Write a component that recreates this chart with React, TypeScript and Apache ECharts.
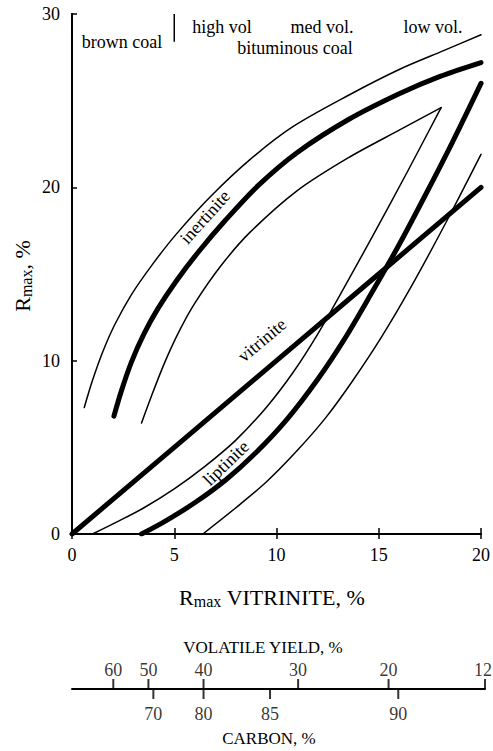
import React, { useEffect, useRef } from "react";
import * as echarts from "echarts";

// Rmax of each maceral vs. Rmax of vitrinite (%), read as [vitrinite, maceral]
const inertiniteMean = [
  [2.05, 6.8], [2.4, 8.2], [2.9, 9.9], [3.5, 11.5], [4.2, 13.0], [5.1, 14.6], [6.2, 16.3],
  [7.5, 18.1], [9.1, 20.1], [11.0, 22.0], [13.5, 23.9], [16.0, 25.4], [18.0, 26.4], [20.0, 27.2],
];
const inertiniteUpper = [
  [0.6, 7.3], [1.0, 8.85], [1.5, 10.5], [2.1, 12.1], [2.9, 13.8], [3.9, 15.5], [5.1, 17.3],
  [6.8, 19.5], [8.7, 21.6], [10.8, 23.5], [13.5, 25.3], [16.0, 26.8], [18.2, 27.9], [20.0, 28.8],
];
const inertiniteLower = [
  [3.4, 6.4], [3.9, 8.0], [4.5, 9.8], [5.2, 11.6], [6.0, 13.3], [7.3, 15.5], [8.7, 17.4],
  [11.0, 19.8], [13.5, 21.7], [16.0, 23.3], [18.05, 24.6],
];
const vitrinite = [
  [0, 0], [5, 5], [10, 10], [15, 15], [20, 20],
];
const liptiniteUpper = [
  [1.0, 0], [2.2, 0.7], [3.5, 1.5], [5.0, 2.6], [6.5, 3.9], [8.0, 5.4], [9.5, 7.3],
  [10.8, 9.3], [12.0, 11.5], [13.3, 14.2], [14.8, 17.4], [16.4, 20.9], [18.05, 24.6],
];
const liptiniteMean = [
  [3.4, 0], [4.5, 0.7], [6.0, 1.8], [7.5, 3.1], [9.0, 4.7], [10.5, 6.6], [12.0, 8.9],
  [13.3, 11.2], [14.6, 13.8], [16.0, 16.7], [17.3, 19.6], [18.6, 22.6], [20.0, 26.0],
];
const liptiniteLower = [
  [6.4, 0], [8.0, 1.5], [9.5, 3.0], [11.0, 4.8], [12.4, 6.7], [13.7, 8.8],
  [15.1, 11.3], [16.6, 14.3], [18.3, 18.0], [20.0, 21.9],
];

// coal rank divider on the top edge (brown coal | bituminous)
const rankDivider = [[5, 30], [5, 28.4]];

// equivalent scales below the chart, positioned on the vitrinite Rmax scale
const volatileTicks = [60, 50, 40, 30, 20, 12];
const volatileAt = [2.0, 3.7, 6.37, 10.95, 15.33, 20];
const carbonTicks = [70, 80, 85, 90];
const carbonAt = [3.94, 6.37, 9.59, 15.8];

const FONT = "'Liberation Serif', 'Times New Roman', serif";

function curve(data: number[][], width: number, smooth: number | boolean = 0.3) {
  return {
    type: "line",
    data,
    smooth,
    showSymbol: false,
    silent: true,
    lineStyle: { color: "#000", width, cap: "round", join: "round" },
  };
}

export default function App() {
  const ref = useRef<HTMLDivElement>(null);

  useEffect(() => {
    document.body.style.margin = "0";
    if (!ref.current) return;
    const chart = echarts.init(ref.current, undefined, { renderer: "svg" });
    const text = (t: string, x: number, y: number, size = 18, rot = 0) => ({
      type: "text",
      x,
      y,
      rotation: (rot * Math.PI) / 180,
      style: {
        text: t,
        fill: "#000",
        font: `${size}px ${FONT}`,
        align: "center",
        verticalAlign: "middle",
      },
    });
    const rmaxRich = {
      R: { fontFamily: FONT, fontSize: 22, color: "#000", lineHeight: 30 },
      s: { fontFamily: FONT, fontSize: 16, color: "#000", lineHeight: 30, padding: [8, 0, 0, 0] },
    };
    const tickLabel = {
      fontSize: 18,
      fontFamily: FONT,
      color: "#000",
    };

    chart.setOption({
      animation: false,
      backgroundColor: "#fff",
      textStyle: { fontFamily: FONT, color: "#000" },
      grid: [
        { left: 72, right: 9, top: 14, bottom: 217 },
        { left: 72, right: 8, top: 688, height: 1 },
      ],
      xAxis: [
        {
          type: "value",
          gridIndex: 0,
          min: 0,
          max: 20,
          interval: 5,
          position: "bottom",
          axisLine: { show: true, lineStyle: { color: "#000", width: 2 } },
          axisTick: { show: true, inside: true, length: 6, lineStyle: { color: "#000", width: 1.5 } },
          axisLabel: { ...tickLabel, margin: 12 },
          splitLine: { show: false },
        },
        {
          type: "value",
          gridIndex: 0,
          min: 0,
          max: 20,
          interval: 5,
          position: "top",
          axisLine: { show: true, lineStyle: { color: "#000", width: 2 } },
          axisTick: { show: true, inside: true, length: 5, lineStyle: { color: "#000", width: 1.5 } },
          axisLabel: { show: false },
          splitLine: { show: false },
        },
        {
          type: "value",
          gridIndex: 1,
          min: 0,
          max: 20,
          axisLine: { show: true, lineStyle: { color: "#000", width: 2 } },
          axisTick: { show: false },
          axisLabel: { show: false },
          splitLine: { show: false },
        },
      ],
      yAxis: [
        {
          type: "value",
          gridIndex: 0,
          min: 0,
          max: 30,
          interval: 10,
          position: "left",
          axisLine: { show: true, lineStyle: { color: "#000", width: 2 } },
          axisTick: { show: true, inside: true, length: 5, lineStyle: { color: "#000", width: 1.5 } },
          axisLabel: { ...tickLabel, margin: 12 },
          splitLine: { show: false },
        },
        {
          type: "value",
          gridIndex: 0,
          min: 0,
          max: 30,
          interval: 10,
          position: "right",
          axisLine: { show: true, lineStyle: { color: "#000", width: 2 } },
          axisTick: { show: false },
          axisLabel: { show: false },
          splitLine: { show: false },
        },
        { type: "value", gridIndex: 1, min: 0, max: 1, show: false },
      ],
      series: [
        curve(inertiniteUpper, 1.5),
        curve(inertiniteMean, 5),
        curve(inertiniteLower, 1.5),
        curve(vitrinite, 5, false),
        curve(liptiniteUpper, 1.5),
        curve(liptiniteMean, 5),
        curve(liptiniteLower, 1.5),
        {
          type: "line",
          data: rankDivider,
          showSymbol: false,
          silent: true,
          lineStyle: { color: "#000", width: 1.5 },
        },
        {
          type: "scatter",
          xAxisIndex: 2,
          yAxisIndex: 2,
          data: volatileAt.map((x, i) => [x, 0, volatileTicks[i]]),
          symbol: "rect",
          symbolSize: [2, 10],
          symbolOffset: [0, -5],
          silent: true,
          itemStyle: { color: "#000" },
          label: {
            ...tickLabel,
            show: true,
            position: "top",
            distance: 0,
            formatter: (p: any) => String(p.data[2]),
          },
          labelLayout: (p: any) =>
            p.dataIndex === volatileTicks.length - 1 ? { dx: -2 } : {},
        },
        {
          type: "scatter",
          xAxisIndex: 2,
          yAxisIndex: 2,
          data: carbonAt.map((x, i) => [x, 0, carbonTicks[i]]),
          symbol: "rect",
          symbolSize: [2, 10],
          symbolOffset: [0, 5],
          silent: true,
          itemStyle: { color: "#000" },
          label: {
            ...tickLabel,
            show: true,
            position: "bottom",
            distance: 6,
            formatter: (p: any) => String(p.data[2]),
          },
        },
      ],
      graphic: [
        text("brown coal", 122, 42),
        text("high vol", 222, 27),
        text("med vol.", 322, 27),
        text("low vol.", 433, 27),
        text("bituminous coal", 295, 48),
        text("inertinite", 205, 217, 18, 48),
        text("vitrinite", 262, 340, 18, 40),
        text("liptinite", 226, 463, 18, 44),
        {
          type: "text",
          x: 272,
          y: 597,
          style: {
            text: "{R|R}{s|max}{R| VITRINITE, %}",
            rich: rmaxRich,
            align: "center",
            verticalAlign: "middle",
          },
        },
        {
          type: "text",
          x: 22,
          y: 276,
          rotation: Math.PI / 2,
          style: {
            text: "{R|R}{s|max}{R|, %}",
            rich: rmaxRich,
            align: "center",
            verticalAlign: "middle",
          },
        },
        text("VOLATILE YIELD, %", 263, 647, 17),
        text("CARBON, %", 269, 738, 17),
      ],
    });
    return () => chart.dispose();
  }, []);

  return <div ref={ref} style={{ width: 493, height: 751 }} />;
}
